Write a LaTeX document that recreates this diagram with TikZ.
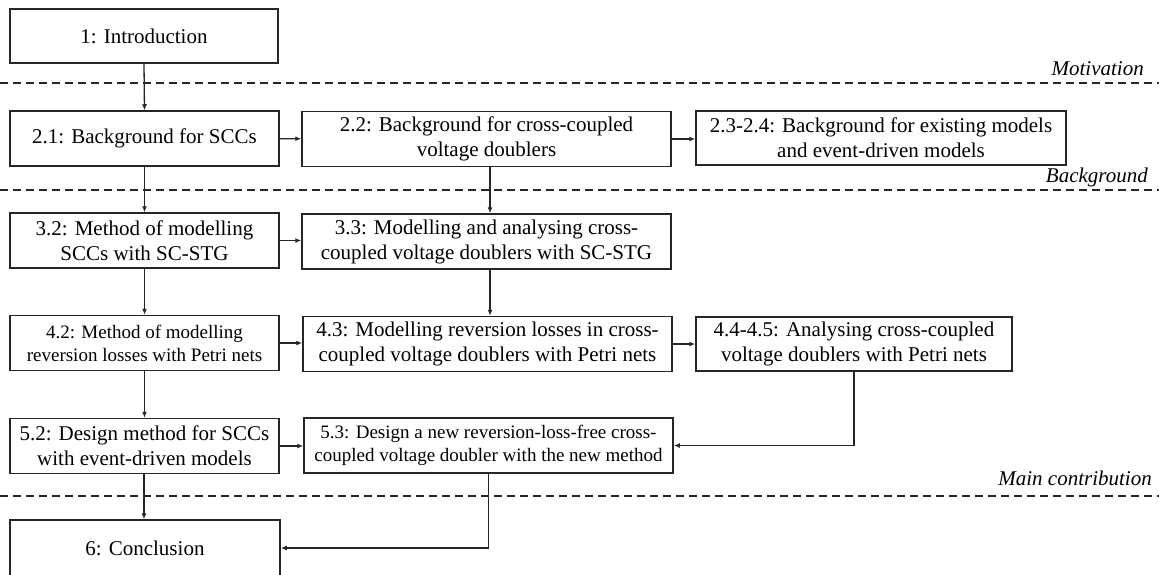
\documentclass[tikz,border=0pt]{standalone}
\usepackage{fontspec}
\setmainfont{Liberation Serif}
\usetikzlibrary{arrows.meta}
\begin{document}
\begin{tikzpicture}[x=1pt,y=-1pt,
  box/.style={draw=black!85, line width=1.5pt, align=center, inner sep=0pt,
    font=\fontsize{21}{25}\selectfont},
  narrow/.style={minimum width=269pt, minimum height=55pt},
  wide/.style={minimum width=369pt, minimum height=55pt},
  smalltext/.style={font=\fontsize{19}{23}\selectfont},
  link/.style={line width=1.3pt, draw=black!85, -{Latex[length=6pt,width=5pt]}},
  divider/.style={line width=1.3pt, draw=black!85, dash pattern=on 8pt off 5pt},
  part/.style={anchor=base east, inner sep=0pt,
    font=\fontsize{21}{25}\selectfont\itshape}]
\clip (0,0) rectangle (1159,574);
\useasboundingbox (0,0) rectangle (1159,574);
\fill[white] (0,0) rectangle (1159,574);

% chapter boxes
\node[box, minimum width=268pt, minimum height=54pt] (n1) at (144,36) {1: Introduction};

\node[box, narrow] (n21) at (144.5,138.5) {2.1: Background for SCCs};
\node[box, wide] (n22) at (486.5,139) {2.2: Background for cross-coupled\\voltage doublers};
\node[box, minimum width=370pt, minimum height=54pt] (n23) at (881,138) {2.3-2.4: Background for existing models\\and event-driven models};

\node[box, narrow] (n32) at (144.5,240.5) {3.2: Method of modelling\\SCCs with SC-STG};
\node[box, wide] (n33) at (486.5,241.5) {3.3: Modelling and analysing cross-\\coupled voltage doublers with SC-STG};

\node[box, narrow, smalltext] (n42) at (144.5,343) {4.2: Method of modelling\\reversion losses with Petri nets};
\node[box, wide] (n43) at (487.5,344) {4.3: Modelling reversion losses in cross-\\coupled voltage doublers with Petri nets};
\node[box, minimum width=316pt, minimum height=54pt] (n44) at (854,344) {4.4-4.5: Analysing cross-coupled\\voltage doublers with Petri nets};

\node[box, narrow] (n52) at (144.5,446) {5.2: Design method for SCCs\\with event-driven models};
\node[box, wide, smalltext] (n53) at (488.5,445.5) {5.3: Design a new reversion-loss-free cross-\\coupled voltage doubler with the new method};

\node[box, minimum width=270pt, minimum height=56pt] (n6) at (145,548) {6: Conclusion};

% part separators and their names
\draw[divider] (0,83) -- (1159,83);
\draw[divider] (0,190) -- (1159,190);
\draw[divider] (0,496) -- (1159,496);
\node[part] (pmot) at (1144,75) {Motivation};
\node[part] (pbg) at (1148,182) {Background};
\node[part] (pmain) at (1152,485) {Main contribution};

% connections
\draw[link] (n1.south) -- (n21.north);
\draw[link] (n21) -- (n22);
\draw[link] (n22.east) -- (n23.west |- n22.east);
\draw[link] (n21.south) -- (n32.north);
\draw[link] ([xshift=3.5pt]n22.south) -- ([xshift=3.5pt]n33.north);
\draw[link] (n32) -- (n33.west |- n32);
\draw[link] (n32.south) -- (n42.north);
\draw[link] ([xshift=3.5pt]n33.south) -- ([xshift=2.5pt]n43.north);
\draw[link] (n42) -- (n43.west |- n42);
\draw[link] (n43) -- (n44);
\draw[link] (n42.south) -- (n52.north);
\draw[link] (n52) -- (n53.west |- n52);
\draw[link] (n44.south) |- (n53.east);
\draw[link] ([xshift=-0.5pt]n52.south) -- ([xshift=-1pt]n6.north);
\draw[link] (n53.south) |- (n6.east);
\end{tikzpicture}
\end{document}
